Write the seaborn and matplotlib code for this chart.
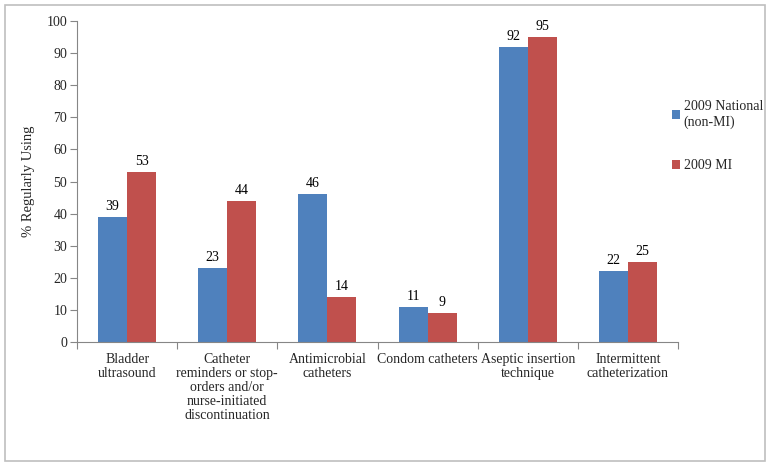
import matplotlib
matplotlib.use("Agg")
import matplotlib.pyplot as plt
import pandas as pd
import seaborn as sns
from matplotlib.patches import Rectangle
from matplotlib.ticker import FixedLocator


CATEGORIES = [
    "Bladder\nultrasound",
    "Catheter\nreminders or stop-\norders and/or\nnurse-initiated\ndiscontinuation",
    "Antimicrobial\ncatheters",
    "Condom catheters",
    "Aseptic insertion\ntechnique",
    "Intermittent\ncatheterization",
]
SERIES = ["2009 National\n(non-MI)", "2009 MI"]
NATIONAL = [39, 23, 46, 11, 92, 22]
MI = [53, 44, 14, 9, 95, 25]
COLORS = ["#4F81BD", "#C0504D"]
Y_TICKS = list(range(0, 101, 10))


def build_frame() -> pd.DataFrame:
    rows = []
    for series, values in zip(SERIES, [NATIONAL, MI]):
        for cat, val in zip(CATEGORIES, values):
            rows.append({"category": cat, "series": series, "value": val})
    return pd.DataFrame(rows)


def main() -> None:
    df = build_frame()

    sns.set_theme(style="white")
    plt.rcParams["font.family"] = ["Liberation Serif", "DejaVu Serif"]
    axis_grey = "#868686"

    fig = plt.figure(figsize=(7.71, 4.65), dpi=100)
    ax = fig.add_axes([0.0999, 0.2645, 0.7795, 0.6903])

    sns.barplot(
        data=df, x="category", y="value", hue="series",
        order=CATEGORIES, hue_order=SERIES, palette=COLORS,
        width=0.58, gap=0, saturation=1, errorbar=None, linewidth=0, ax=ax,
    )

    for container in ax.containers:
        ax.bar_label(container, padding=3, fontsize=10, color="#000000")

    ax.set_ylim(0, 100)
    ax.set_xlim(-0.5, len(CATEGORIES) - 0.5)
    ax.set_yticks(Y_TICKS)
    ax.set_ylabel("% Regularly Using", fontsize=10.5, labelpad=8)
    ax.set_xlabel("")

    ax.tick_params(axis="y", which="major", direction="out", length=5, width=0.8,
                   color=axis_grey, labelsize=10, pad=2, left=True)
    ax.tick_params(axis="x", which="major", length=0, labelsize=10, pad=8)
    ax.xaxis.set_minor_locator(FixedLocator([i + 0.5 for i in range(-1, len(CATEGORIES))]))
    ax.tick_params(axis="x", which="minor", direction="out", length=5, width=0.8,
                   color=axis_grey, bottom=True)
    for lbl in ax.get_xticklabels():
        lbl.set_linespacing(1.1)

    sns.despine(ax=ax, top=True, right=True)
    for side in ["left", "bottom"]:
        ax.spines[side].set_color(axis_grey)
        ax.spines[side].set_linewidth(0.8)

    ax.get_legend().remove()
    handles, labels = ax.get_legend_handles_labels()
    fig.legend(
        handles, labels, loc="upper left",
        bbox_to_anchor=(672 / 771, 1 - 100 / 465), bbox_transform=fig.transFigure,
        frameon=False, fontsize=10, handlelength=0.6, handleheight=0.6,
        handletextpad=0.25, labelspacing=2.2, borderpad=0, borderaxespad=0,
    )

    fig.patches.append(Rectangle((5 / 771, 4 / 465), 760 / 771, 456 / 465,
                                 transform=fig.transFigure, fill=False,
                                 edgecolor="#BFBFBF", linewidth=1.2))

    fig.savefig("out.png", dpi=100)
    plt.close(fig)


if __name__ == "__main__":
    main()
